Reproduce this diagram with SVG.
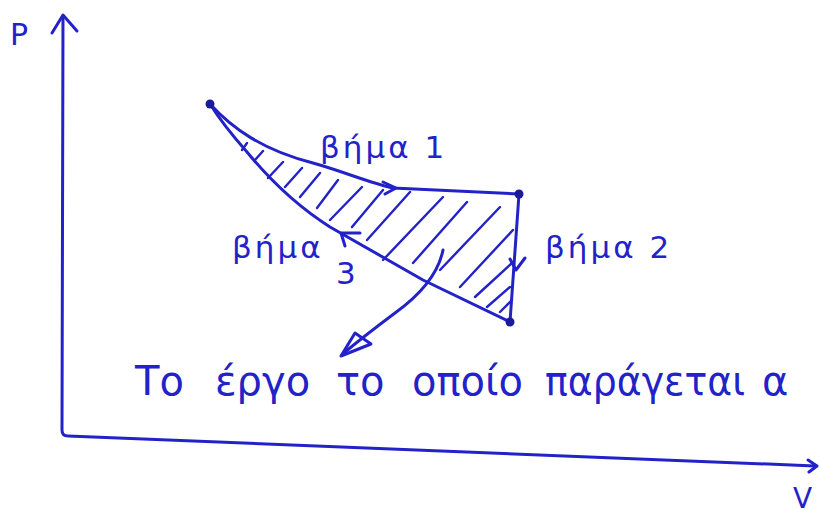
<svg xmlns="http://www.w3.org/2000/svg" width="819" height="517" viewBox="0 0 819 517">
<style>
.ink{fill:none;stroke:#2222c8;stroke-width:3;stroke-linecap:round;stroke-linejoin:round}
.thin{fill:none;stroke:#2222c8;stroke-width:2.4;stroke-linecap:round}
.t{fill:#2222c8;font-family:"DejaVu Sans","Noto Sans",sans-serif}
.lab{font-size:31px;letter-spacing:3px}
.dot{fill:#1a1a9a}
</style>
<rect width="819" height="517" fill="#fff"/>
<g id="axes">
<path class="ink" d="M63,16 L62,430 Q62,436 68,436 L815,466"/>
<path class="ink" d="M52,33 L63,15 L77,31"/>
<path class="ink" d="M808,460 L817,466 L809,472"/>
<text class="t" x="10" y="45" font-size="30">P</text>
<text class="t" x="793" y="508" font-size="28">V</text>
</g>
<g id="hatch">
<path class="thin" d="M242,150 L247,143 M255,160 L263,151 M268,178 L283,162 M285,187 L302,168 M300,197 L320,173 M317,208 L338,180 M330,220 L362,187 M352,227 L383,190 M367,240 L410,192 M383,260 L443,197 M413,263 L467,202 M440,270 L500,207 M460,287 L513,230 M475,297 L513,262 M487,307 L510,287 M500,312 L512,300"/>
</g>
<g id="connectors">
<path id="step1" class="ink" d="M210,104 C232,128 262,150 313,163 C345,172 370,183 393,188 L519,194"/>
<path class="ink" d="M383,182 L396,188 L385,194"/>
<path id="step2" class="ink" d="M519,194 L510,322"/>
<path class="ink" d="M510,259 L516,270 L525,258"/>
<path id="step3" class="ink" d="M510,322 L423,280 L330,227 C300,208 270,180 247,152 C232,135 220,120 210,104"/>
<path class="ink" d="M360,233 L341,233 L345,246"/>
<path id="work" class="ink" d="M443,250 C438,275 420,295 395,313 C375,328 362,338 345,352"/>
<path class="ink" d="M341,356 L355,333 L371,344 Z"/>
</g>
<g id="n1"><circle class="dot" cx="210" cy="104" r="4.5"/></g>
<g id="n2"><circle class="dot" cx="519" cy="194" r="4.5"/></g>
<g id="n3"><circle class="dot" cx="510" cy="322" r="4.5"/></g>
<g id="labels">
<text class="t lab" x="320" y="158">βήμα 1</text>
<text class="t lab" x="545" y="258">βήμα 2</text>
<text class="t lab" x="232" y="258">βήμα</text>
<text class="t lab" x="336" y="284">3</text>
<text class="t" font-size="40" y="395"><tspan x="135">Το</tspan><tspan x="215">έργο</tspan><tspan x="336">το</tspan><tspan x="412">οποίο</tspan><tspan x="545" textLength="200" lengthAdjust="spacingAndGlyphs">παράγεται</tspan><tspan x="762">α</tspan></text>
</g>
</svg>
